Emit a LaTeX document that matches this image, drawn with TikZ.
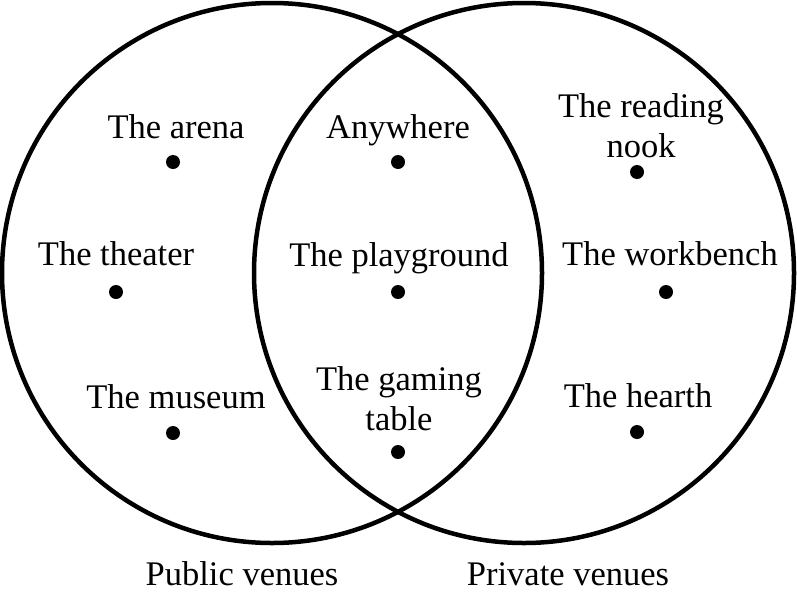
\documentclass[tikz,border=0pt]{standalone}
\usepackage{fontspec}
\setmainfont{Liberation Serif}
\usepackage{tikz}
\usetikzlibrary{positioning}

\tikzset{
  venn/.style={line width=4.5pt, black},
  spot/.style={circle, fill=black, inner sep=0pt, minimum size=14pt},
  place/.style={anchor=base, align=center, inner sep=0pt, font=\fontsize{34.5}{39.5}\selectfont},
}

\begin{document}
\begin{tikzpicture}[x=1pt, y=-1pt]
  \useasboundingbox (0,0) rectangle (797,592);

  % Two venue circles
  \draw[venn] (272,273) circle[radius=270];
  \draw[venn] (524,273) circle[radius=270];

  % Public venues only
  \node[spot] (arena) at (173,162) {};
  \node[place] (arenaL) at (176,138) {The arena};
  \node[spot] (theater) at (116,292) {};
  \node[place] (theaterL) at (116,265) {The theater};
  \node[spot] (museum) at (173,433) {};
  \node[place] (museumL) at (176,408) {The museum};

  % Both
  \node[spot] (anywhere) at (398,162) {};
  \node[place] (anywhereL) at (398,138) {Anywhere};
  \node[spot] (playground) at (398,292) {};
  \node[place] (playgroundL) at (399,266) {The playground};
  \node[spot] (gaming) at (398,452) {};
  \node[place] (gamingL) at (399,430) {The gaming\\table};

  % Private venues only
  \node[spot] (nook) at (637,172) {};
  \node[place] (nookL) at (641,157) {The reading\\nook};
  \node[spot] (workbench) at (666,292) {};
  \node[place] (workbenchL) at (670,265) {The workbench};
  \node[spot] (hearth) at (637,432) {};
  \node[place] (hearthL) at (638,407) {The hearth};

  % Circle captions
  \node[place] (public) at (242,585) {Public venues};
  \node[place] (private) at (568,585) {Private venues};
\end{tikzpicture}
\end{document}
